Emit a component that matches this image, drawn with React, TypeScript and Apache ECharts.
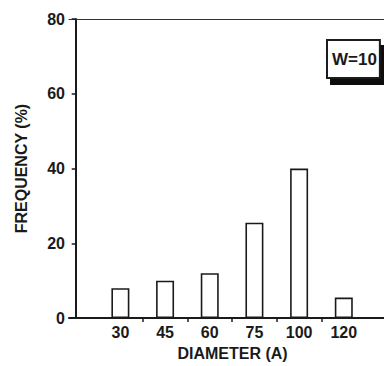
import React, { useEffect, useRef } from "react";
import * as echarts from "echarts";

const categories = ["30", "45", "60", "75", "100", "120"];
const frequency = [8, 10, 12, 25.5, 40, 5.5];
const yTicks = [0, 20, 40, 60, 80];
const seriesName = "W=10";

const FONT = "'Liberation Sans', Arial, Helvetica, sans-serif";
const INK = "#1a1a1a";

export default function App() {
  const ref = useRef<HTMLDivElement>(null);

  useEffect(() => {
    if (!ref.current) return;
    const chart = echarts.init(ref.current, undefined, { renderer: "svg" });
    const positions = categories.map((_, i) => i + 1);
    const tickPositions = categories.slice(1).map((_, i) => i + 1.5);
    chart.setOption({
      animation: false,
      backgroundColor: "#ffffff",
      textStyle: { fontFamily: FONT, color: INK },
      grid: { left: 69, right: 0, top: 19, bottom: 43 },
      legend: {
        data: [seriesName],
        left: 327,
        top: 40,
        icon: "none",
        itemWidth: 0,
        itemHeight: 14,
        padding: [9, 3, 9, 0],
        backgroundColor: "#ffffff",
        borderColor: INK,
        borderWidth: 2,
        shadowColor: "#111111",
        shadowBlur: 0,
        shadowOffsetX: 4,
        shadowOffsetY: 6,
        selectedMode: false,
        textStyle: {
          fontFamily: FONT,
          fontSize: 17,
          fontWeight: "bold",
          color: INK,
          lineHeight: 20,
        },
      },
      xAxis: [
        {
          type: "value",
          min: -0.15,
          max: 6.9,
          position: "bottom",
          name: "DIAMETER (A)",
          nameLocation: "middle",
          nameGap: 24,
          nameTextStyle: {
            fontFamily: FONT,
            fontSize: 16,
            fontWeight: "bold",
            color: INK,
            padding: [0, 0, 0, 12],
          },
          axisLine: { show: true, lineStyle: { color: INK, width: 2 } },
          axisTick: {
            show: true,
            inside: false,
            length: 4,
            customValues: tickPositions,
            lineStyle: { color: INK, width: 1.5 },
          },
          axisLabel: {
            show: true,
            margin: 6,
            fontFamily: FONT,
            fontSize: 16,
            fontWeight: "bold",
            color: INK,
            customValues: positions,
            formatter: (v: number) => categories[Math.round(v) - 1] ?? "",
          },
          splitLine: { show: false },
        },
        {
          type: "value",
          min: -0.15,
          max: 6.9,
          position: "top",
          axisLine: { show: true, lineStyle: { color: "#333", width: 1.2 } },
          axisTick: { show: false },
          axisLabel: { show: false },
          splitLine: { show: false },
        },
      ],
      yAxis: {
        type: "value",
        min: yTicks[0],
        max: yTicks[yTicks.length - 1],
        interval: 20,
        name: "FREQUENCY (%)",
        nameLocation: "middle",
        nameGap: 40,
        nameTextStyle: {
          fontFamily: FONT,
          fontSize: 16,
          fontWeight: "bold",
          color: INK,
        },
        axisLine: { show: true, lineStyle: { color: INK, width: 2 } },
        axisTick: { show: true, length: 4, lineStyle: { color: INK, width: 1.5 } },
        axisLabel: {
          margin: 4,
          fontFamily: FONT,
          fontSize: 16,
          fontWeight: "bold",
          color: INK,
        },
        splitLine: { show: false },
      },
      series: [
        {
          name: seriesName,
          type: "bar",
          xAxisIndex: 0,
          barWidth: 18,
          data: frequency.map((v, i) => [positions[i], v]),
          itemStyle: {
            color: "#ffffff",
            borderColor: INK,
            borderWidth: 1.6,
          },
        },
      ],
    });
    return () => chart.dispose();
  }, []);

  return (
    <div
      ref={ref}
      style={{ position: "fixed", left: 0, top: 0, width: 384, height: 366 }}
    />
  );
}
